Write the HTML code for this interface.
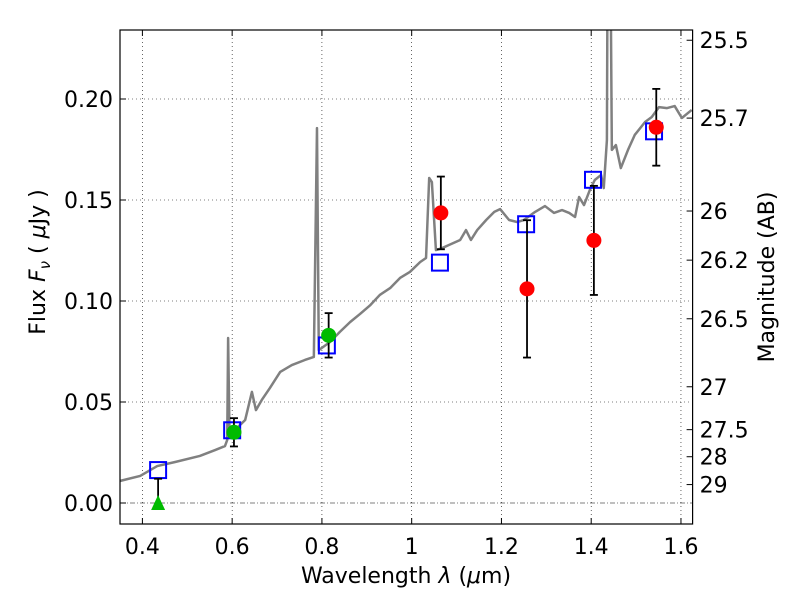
<!DOCTYPE html>
<html><head><meta charset="utf-8"><style>
body{margin:0;background:#fff}
text{font-family:"DejaVu Sans","Liberation Sans",sans-serif;fill:#000}
</style></head><body>
<svg id="chart" width="800" height="600" xmlns="http://www.w3.org/2000/svg"></svg>
<script>
const xTicks=[0.4,0.6,0.8,1.0,1.2,1.4,1.6];
const xTickLabels=["0.4","0.6","0.8","1","1.2","1.4","1.6"];
const yTicks=[0,0.05,0.10,0.15,0.20];
const yTickLabels=["0.00","0.05","0.10","0.15","0.20"];
const magTicks=[25.5,25.7,26,26.2,26.5,27,27.5,28,29];
const magTickLabels=["25.5","25.7","26","26.2","26.5","27","27.5","28","29"];
const specLam=[0.350,0.395,0.433,0.473,0.528,0.562,0.584,0.589,0.591,0.594,0.606,0.629,0.644,0.653,0.666,0.684,0.707,0.733,0.762,0.782,0.789,0.793,0.818,0.840,0.863,0.885,0.908,0.929,0.952,0.974,0.996,1.019,1.032,1.039,1.045,1.054,1.068,1.083,1.108,1.121,1.132,1.146,1.166,1.184,1.197,1.217,1.235,1.250,1.275,1.297,1.317,1.335,1.351,1.364,1.373,1.384,1.397,1.408,1.422,1.428,1.435,1.437,1.442,1.446,1.455,1.466,1.482,1.497,1.520,1.535,1.551,1.569,1.586,1.602,1.624];
const specFlux=[0.0109,0.0134,0.0183,0.0203,0.0233,0.0262,0.0282,0.0312,0.0817,0.0351,0.0361,0.0411,0.0550,0.0460,0.0510,0.0569,0.0649,0.0683,0.0708,0.0723,0.1856,0.0757,0.0797,0.0847,0.0896,0.0936,0.0980,0.1030,0.1064,0.1114,0.1144,0.1193,0.1213,0.1609,0.1589,0.1252,0.1262,0.1277,0.1302,0.1351,0.1302,0.1351,0.1401,0.1441,0.1455,0.1401,0.1391,0.1401,0.1441,0.1470,0.1436,0.1450,0.1436,0.1416,0.1515,0.1475,0.1550,0.1599,0.1624,0.1559,0.1797,0.30,0.30,0.1748,0.1772,0.1658,0.1748,0.1822,0.1886,0.1911,0.1960,0.1955,0.1965,0.1906,0.1946];
const modelLam=[0.435,0.600,0.811,1.063,1.255,1.404,1.540];
const modelFlux=[0.0163,0.036,0.078,0.119,0.138,0.160,0.184];
const redLam=[1.065,1.257,1.406,1.545];
const redFlux=[0.1436,0.106,0.130,0.186];
const redErr=[0.018,0.034,0.027,0.019];
const greenLam=[0.604,0.815];
const greenFlux=[0.035,0.083];
const greenErr=[0.007,0.011];
const limLam=[0.435];
const limFlux=[0.0];
const limUpper=[0.012];

const L=120,R=692.6,T=30,B=524;
const X=v=>142.4+(v-0.4)*448.8;
const Y=v=>503-v*2020;
const NS="http://www.w3.org/2000/svg";
const svg=document.getElementById('chart');
function mk(tag,attrs,parent){const e=document.createElementNS(NS,tag);for(const k in attrs)e.setAttribute(k,attrs[k]);(parent||svg).appendChild(e);return e;}
const defs=mk('defs',{});
const cp=mk('clipPath',{id:'clip'},defs);mk('rect',{x:L,y:T,width:R-L,height:B-T},cp);

xTicks.forEach((v,i)=>{
 const g=mk('line',{x1:X(v),x2:X(v),y1:T,y2:B,stroke:'#000','stroke-width':0.6,'stroke-dasharray':'1,3'});
 
 
 mk('line',{x1:X(v),x2:X(v),y1:B,y2:B-6,stroke:'#000'});
 mk('line',{x1:X(v),x2:X(v),y1:T,y2:T+6,stroke:'#000'});
 const t=mk('text',{x:X(v),y:B+30,'text-anchor':'middle','font-size':22});t.textContent=xTickLabels[i];
 
 
});
yTicks.forEach((v,i)=>{
 const g=mk('line',{x1:L,x2:R,y1:Y(v),y2:Y(v),stroke:'#000','stroke-width':0.6,'stroke-dasharray':v===0?'5,2,1,2':'1,3'});
 
 
 mk('line',{x1:L,x2:L+6,y1:Y(v),y2:Y(v),stroke:'#000'});
 const t=mk('text',{x:L-7,y:Y(v)+8,'text-anchor':'end','font-size':22});t.textContent=yTickLabels[i];
 
 
});
magTicks.forEach((m,i)=>{
 const f=Math.pow(10,-(m-23.9)/2.5);const y=Y(f);
 mk('line',{x1:R,x2:R-6,y1:y,y2:y,stroke:'#000'});
 const t=mk('text',{x:R+7,y:y+8,'font-size':22});t.textContent=magTickLabels[i];
 
 
});

const pl=mk('polyline',{points:specLam.map((l,i)=>X(l)+','+Y(specFlux[i])).join(' '),fill:'none',stroke:'#808080','stroke-width':2.5,'clip-path':'url(#clip)','stroke-linejoin':'round'});



function errbar(x,y1,y2,capTop,capBot){
 mk('line',{x1:x,x2:x,y1:y1,y2:y2,stroke:'#000','stroke-width':1.8});
 if(capTop)mk('line',{x1:x-4,x2:x+4,y1:y1,y2:y1,stroke:'#000','stroke-width':1.8});
 if(capBot)mk('line',{x1:x-4,x2:x+4,y1:y2,y2:y2,stroke:'#000','stroke-width':1.8});
}
modelLam.forEach((l,i)=>{
 const s=mk('rect',{x:X(l)-8,y:Y(modelFlux[i])-8,width:16,height:16,fill:'none',stroke:'#0000ff','stroke-width':2});
 
 
});
limLam.forEach((l,i)=>{
 errbar(X(l),Y(limUpper[i]),Y(limFlux[i]),true,false);
 const x=X(l),y=Y(limFlux[i]);
 const p=mk('polygon',{points:`${x},${y-8} ${x-7},${y+7} ${x+7},${y+7}`,fill:'#00bb00'});
 
 
});
greenLam.forEach((l,i)=>{
 errbar(X(l),Y(greenFlux[i]+greenErr[i]),Y(greenFlux[i]-greenErr[i]),true,true);
 const c=mk('circle',{cx:X(l),cy:Y(greenFlux[i]),r:7.5,fill:'#00bb00'});
 
 
});
redLam.forEach((l,i)=>{
 errbar(X(l),Y(redFlux[i]+redErr[i]),Y(redFlux[i]-redErr[i]),true,true);
 const c=mk('circle',{cx:X(l),cy:Y(redFlux[i]),r:7.5,fill:'#ff0000'});
 
 
});
const fr=mk('rect',{x:L,y:T,width:R-L,height:B-T,fill:'none',stroke:'#000','stroke-width':1.2});


</script>
<svg width="800" height="600" style="position:absolute;left:0;top:0" xmlns="http://www.w3.org/2000/svg">
<text x="406" y="583" text-anchor="middle" font-size="22">Wavelength  <tspan font-style="italic">λ</tspan> (<tspan font-style="italic">μ</tspan>m)</text>
<text transform="translate(45,262) rotate(-90)" text-anchor="middle" font-size="22">Flux  <tspan font-style="italic">F</tspan><tspan font-style="italic" font-size="15" dy="5">ν</tspan><tspan dy="-5">  (  </tspan><tspan font-style="italic">μ</tspan>Jy )</text>
<text transform="translate(774,277) rotate(-90)" text-anchor="middle" font-size="22">Magnitude (AB)</text>
</svg>
</body></html>
